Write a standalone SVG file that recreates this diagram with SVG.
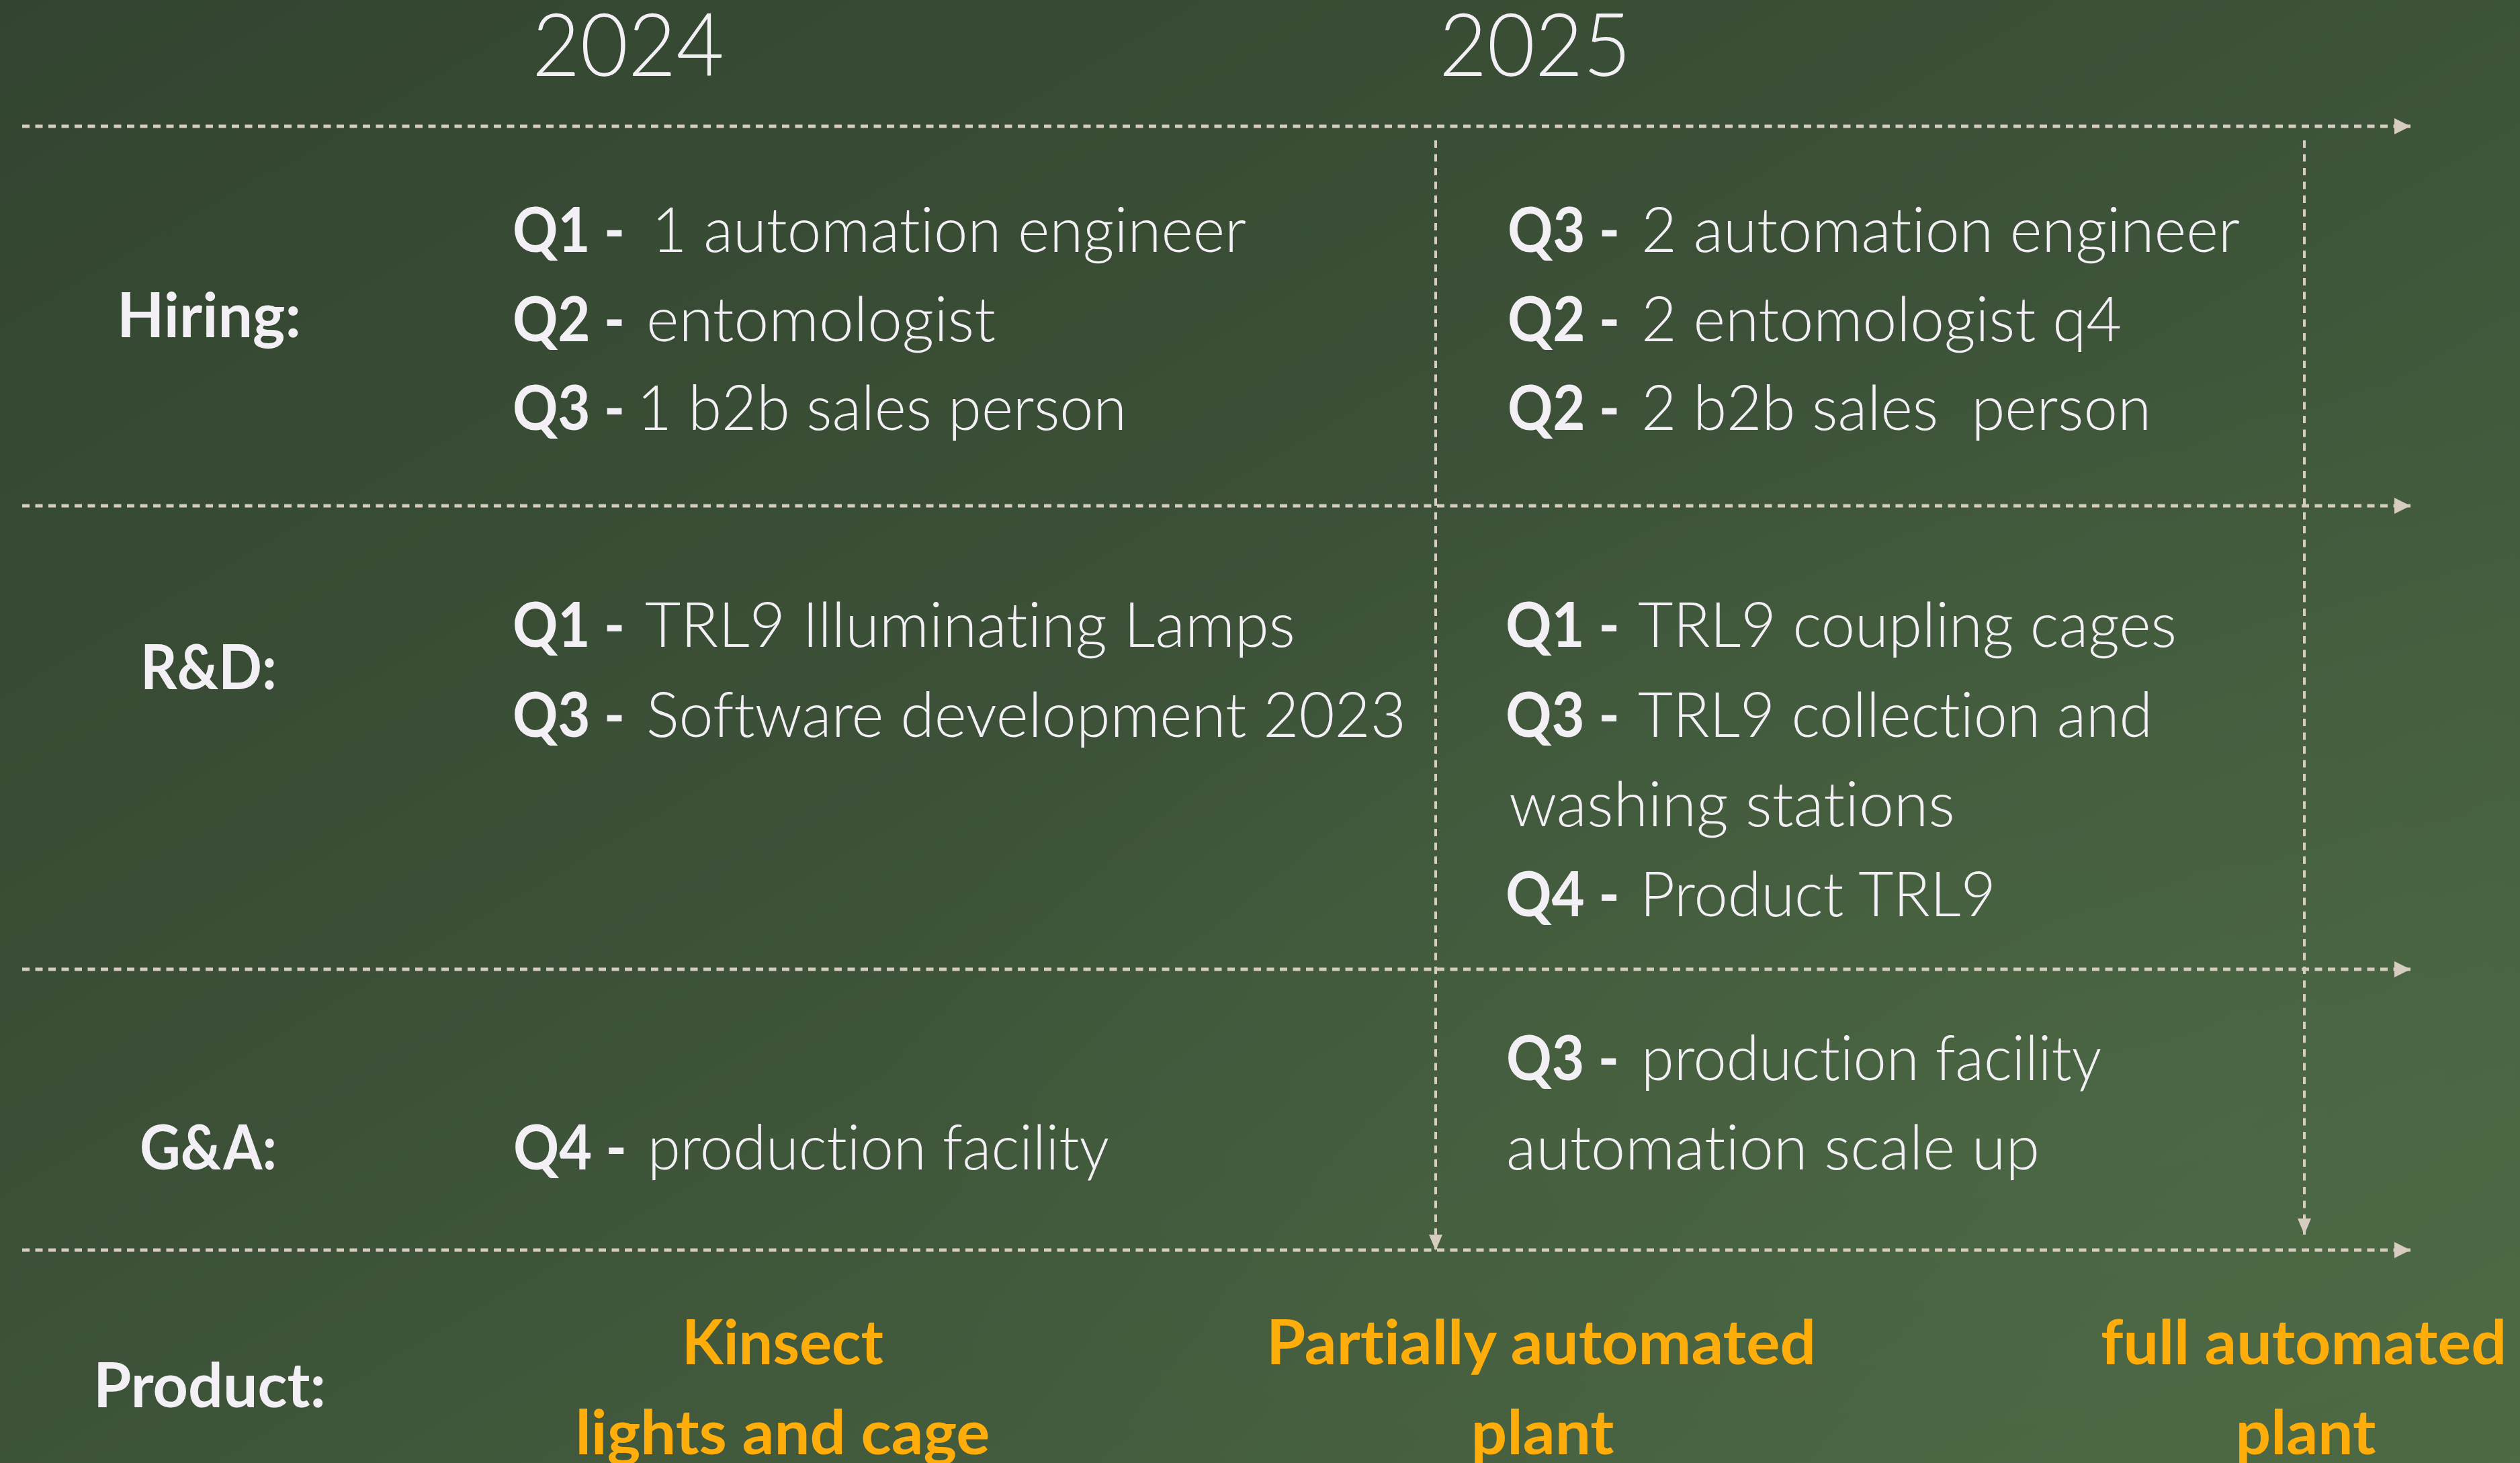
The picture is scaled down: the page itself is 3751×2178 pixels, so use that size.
<svg xmlns="http://www.w3.org/2000/svg" width="3751" height="2178" viewBox="0 0 3751 2178">
  <defs>
    <linearGradient id="bg" x1="0" y1="0" x2="1" y2="1">
      <stop offset="0" stop-color="#334530"/>
      <stop offset="0.45" stop-color="#3c5138"/>
      <stop offset="1" stop-color="#4c6943"/>
    </linearGradient>
    <radialGradient id="glow" cx="0.85" cy="0.75" r="0.5">
      <stop offset="0" stop-color="#52704a" stop-opacity="0.35"/>
      <stop offset="1" stop-color="#52704a" stop-opacity="0"/>
    </radialGradient>
    <marker id="arrH" markerUnits="userSpaceOnUse" markerWidth="24" markerHeight="26" refX="24" refY="13" orient="auto">
      <path d="M0,1 L24,13 L0,25 z" fill="#d6cdc0"/>
    </marker>
    <marker id="arrV" markerUnits="userSpaceOnUse" markerWidth="24" markerHeight="22" refX="24" refY="11" orient="auto">
      <path d="M0,1 L24,11 L0,21 z" fill="#d6cdc0"/>
    </marker>
    <style>
      text { font-variant-ligatures: none; }
      .hline { stroke: #d6cdc0; stroke-width: 5; stroke-dasharray: 11 8.5; fill: none; }
      .vline { stroke: #d6cdc0; stroke-width: 4; stroke-dasharray: 11 9.5; fill: none; }
      .year { font-family: Lato, Roboto, "Open Sans", sans-serif; font-weight: 300; font-size: 130px; fill: #f3f0f5; }
      .lab { font-family: Lato, Roboto, "Open Sans", sans-serif; font-weight: 700; font-size: 92px; fill: #f3f0f5; }
      .q { font-family: Lato, Roboto, "Open Sans", sans-serif; font-weight: 700; font-size: 92px; fill: #f3f0f5; }
      .t { font-family: Lato, Roboto, "Open Sans", sans-serif; font-weight: 300; font-size: 92px; fill: #f3f0f5; }
      .prod { font-family: Lato, Roboto, "Open Sans", sans-serif; font-weight: 700; font-size: 92px; fill: #ffad0a; text-anchor: middle; }
    </style>
  </defs>

  <rect x="0" y="0" width="3751" height="2178" fill="url(#bg)"/>
  <rect x="0" y="0" width="3751" height="2178" fill="url(#glow)"/>

  <g id="connectors">
    <line class="hline" x1="33" y1="188" x2="3588" y2="188" marker-end="url(#arrH)"/>
    <line class="hline" x1="33" y1="753" x2="3588" y2="753" marker-end="url(#arrH)"/>
    <line class="hline" x1="33" y1="1443" x2="3588" y2="1443" marker-end="url(#arrH)"/>
    <line class="hline" x1="33" y1="1861" x2="3588" y2="1861" marker-end="url(#arrH)"/>
    <line class="vline" x1="2137" y1="209" x2="2137" y2="1862" marker-end="url(#arrV)"/>
    <line class="vline" x1="3430" y1="209" x2="3430" y2="1838" marker-end="url(#arrV)"/>
  </g>

  <g id="year-2024"><text class="year" x="792" y="113" textLength="286" lengthAdjust="spacingAndGlyphs">2024</text></g>
  <g id="year-2025"><text class="year" x="2142" y="113" textLength="286" lengthAdjust="spacingAndGlyphs">2025</text></g>

  <g id="row-hiring">
    <text class="lab" x="174" y="502" textLength="274" lengthAdjust="spacingAndGlyphs">Hiring:</text>
    <text class="q" x="763" y="375" textLength="167" lengthAdjust="spacingAndGlyphs">Q1 -</text>
    <text class="t" x="970" y="375" textLength="885" lengthAdjust="spacingAndGlyphs">1 automation engineer</text>
    <text class="q" x="763" y="508" textLength="167" lengthAdjust="spacingAndGlyphs">Q2 -</text>
    <text class="t" x="962" y="508" textLength="520" lengthAdjust="spacingAndGlyphs">entomologist</text>
    <text class="q" x="763" y="640" textLength="167" lengthAdjust="spacingAndGlyphs">Q3 -</text>
    <text class="t" x="948" y="640" textLength="729" lengthAdjust="spacingAndGlyphs">1 b2b sales person</text>

    <text class="q" x="2244" y="375" textLength="167" lengthAdjust="spacingAndGlyphs">Q3 -</text>
    <text class="t" x="2443" y="375" textLength="891" lengthAdjust="spacingAndGlyphs">2 automation engineer</text>
    <text class="q" x="2244" y="508" textLength="167" lengthAdjust="spacingAndGlyphs">Q2 -</text>
    <text class="t" x="2443" y="508" textLength="715" lengthAdjust="spacingAndGlyphs">2 entomologist q4</text>
    <text class="q" x="2244" y="640" textLength="167" lengthAdjust="spacingAndGlyphs">Q2 -</text>
    <text class="t" x="2443" y="640" textLength="759" lengthAdjust="spacingAndGlyphs" xml:space="preserve">2 b2b sales  person</text>
  </g>

  <g id="row-rd">
    <text class="lab" x="209" y="1026" textLength="203" lengthAdjust="spacingAndGlyphs">R&amp;D:</text>
    <text class="q" x="763" y="963" textLength="167" lengthAdjust="spacingAndGlyphs">Q1 -</text>
    <text class="t" x="960" y="963" textLength="968" lengthAdjust="spacingAndGlyphs">TRL9 Illuminating Lamps</text>
    <text class="q" x="763" y="1097" textLength="167" lengthAdjust="spacingAndGlyphs">Q3 -</text>
    <text class="t" x="962" y="1097" textLength="1131" lengthAdjust="spacingAndGlyphs">Software development 2023</text>

    <text class="q" x="2241" y="963" textLength="170" lengthAdjust="spacingAndGlyphs">Q1 -</text>
    <text class="t" x="2438" y="963" textLength="802" lengthAdjust="spacingAndGlyphs">TRL9 coupling cages</text>
    <text class="q" x="2241" y="1097" textLength="170" lengthAdjust="spacingAndGlyphs">Q3 -</text>
    <text class="t" x="2438" y="1097" textLength="766" lengthAdjust="spacingAndGlyphs">TRL9 collection and</text>
    <text class="t" x="2246" y="1230" textLength="664" lengthAdjust="spacingAndGlyphs">washing stations</text>
    <text class="q" x="2241" y="1364" textLength="170" lengthAdjust="spacingAndGlyphs">Q4 -</text>
    <text class="t" x="2441" y="1364" textLength="530" lengthAdjust="spacingAndGlyphs">Product TRL9</text>
  </g>

  <g id="row-ga">
    <text class="lab" x="208" y="1741" textLength="204" lengthAdjust="spacingAndGlyphs">G&amp;A:</text>
    <text class="q" x="764" y="1741" textLength="169" lengthAdjust="spacingAndGlyphs">Q4 -</text>
    <text class="t" x="964" y="1741" textLength="687" lengthAdjust="spacingAndGlyphs">production facility</text>

    <text class="q" x="2242" y="1608" textLength="168" lengthAdjust="spacingAndGlyphs">Q3 -</text>
    <text class="t" x="2443" y="1608" textLength="685" lengthAdjust="spacingAndGlyphs">production facility</text>
    <text class="t" x="2242" y="1741" textLength="794" lengthAdjust="spacingAndGlyphs">automation scale up</text>
  </g>

  <g id="row-product">
    <text class="lab" x="139" y="2095" textLength="346" lengthAdjust="spacingAndGlyphs">Product:</text>
    <g id="product-kinsect">
      <text class="prod" x="1165" y="2031" textLength="300" lengthAdjust="spacingAndGlyphs">Kinsect</text>
      <text class="prod" x="1165" y="2165" textLength="617" lengthAdjust="spacingAndGlyphs">lights and cage</text>
    </g>
    <g id="product-partial">
      <text class="prod" x="2294" y="2031" textLength="818" lengthAdjust="spacingAndGlyphs">Partially automated</text>
      <text class="prod" x="2296" y="2165" textLength="213" lengthAdjust="spacingAndGlyphs">plant</text>
    </g>
    <g id="product-full">
      <text class="prod" x="3429" y="2031" textLength="604" lengthAdjust="spacingAndGlyphs">full automated</text>
      <text class="prod" x="3432" y="2165" textLength="209" lengthAdjust="spacingAndGlyphs">plant</text>
    </g>
  </g>
</svg>
